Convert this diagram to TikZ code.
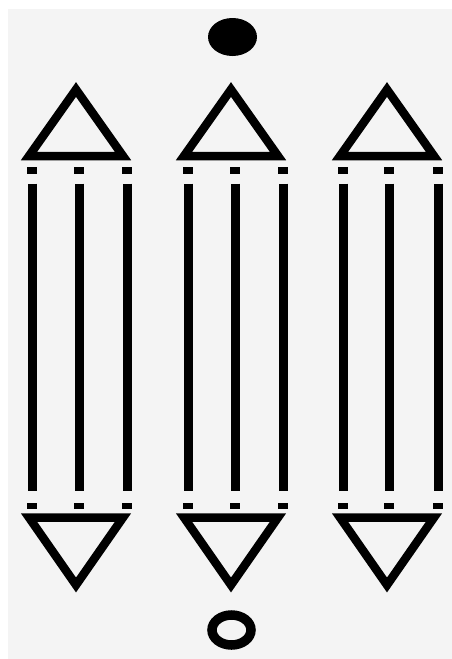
\documentclass[tikz,border=0pt]{standalone}
\definecolor{bggray}{RGB}{244,244,244}
\tikzset{
  tri/.style={draw=black, line width=8.5pt, line join=miter, fill=none},
  bar/.style={draw=black, line width=9pt, line cap=butt},
  tick/.style={fill=black},
  ring/.style={draw=black, line width=9.5pt},
}
\begin{document}
\begin{tikzpicture}[x=1pt,y=-1pt]
\useasboundingbox (0,0) rectangle (452,659);
\fill[white] (0,0) rectangle (452,659);
\fill[bggray] (8,9) rectangle (452,659);
% top filled ellipse
\fill[black] (232.5,37) ellipse [x radius=24.5, y radius=19];
% bottom ring
\draw[ring] (231.5,630) ellipse [x radius=19.5, y radius=15];
% groups
\foreach \c/\a/\b/\d in {76/32/79/127, 231/188/235/283, 387/343/389/438}{
  \draw[tri] (\c,89.5) -- (\c-47,156) -- (\c+47,156) -- cycle;
  \draw[tri] (\c,585) -- (\c-47,517.5) -- (\c+47,517.5) -- cycle;
  \foreach \x in {\a,\b,\d}{
    \draw[bar] (\x,183.5) -- (\x,491);
    \fill[tick] (\x-5,167) rectangle (\x+5,173.5);
    \fill[tick] (\x-5,503) rectangle (\x+5,509);
  }
}
\end{tikzpicture}
\end{document}
